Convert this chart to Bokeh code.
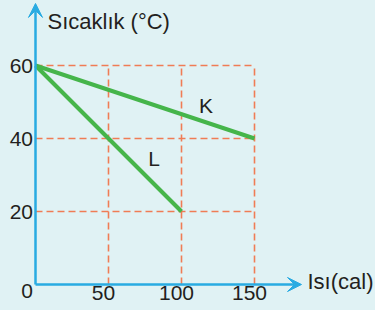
from bokeh.plotting import figure
from bokeh.models import Range1d, Arrow, VeeHead
from bokeh.core.properties import value
from bokeh.embed import file_html
from bokeh.resources import INLINE

# data
heat_K = [0, 150]
temp_K = [60, 40]
heat_L = [0, 100]
temp_L = [60, 20]
x_ticks = [50, 100, 150]
y_ticks = [20, 40, 60]
x_tick_labels = ["50", "100", "150"]
y_tick_labels = ["20", "40", "60"]

BG = "#e0f2f4"
AX = "#29abe2"
GRID = "#f07c55"
GREEN = "#45b54a"
TXT = "#231f20"
FONT = value("Liberation Sans")

# pixel mapping: x_px = 35 + 1.46*x ; y_px = 284 - 3.65*y
W, H = 375, 310
p = figure(width=W, height=H, output_backend="svg", toolbar_location=None,
           x_range=Range1d(-35 / 1.46, (W - 35) / 1.46),
           y_range=Range1d((284 - H) / 3.65, 284 / 3.65),
           x_axis_type=None, y_axis_type=None, min_border=0)
p.background_fill_color = BG
p.border_fill_color = BG
p.outline_line_color = None
p.xgrid.visible = False
p.ygrid.visible = False

xmax = max(x_ticks)
ymax = max(y_ticks)

# dashed guide lines
p.segment(x0=[0] * len(y_ticks), y0=y_ticks, x1=[xmax] * len(y_ticks), y1=y_ticks,
          line_color=GRID, line_width=1.6, line_dash="7 4")
p.segment(x0=x_ticks, y0=[0] * len(x_ticks), x1=x_ticks, y1=[ymax] * len(x_ticks),
          line_color=GRID, line_width=1.6, line_dash="7 4")

# data lines
p.line(heat_K, temp_K, line_color=GREEN, line_width=4)
p.line(heat_L, temp_L, line_color=GREEN, line_width=4)

# axes arrows
p.add_layout(Arrow(end=VeeHead(size=14, fill_color=AX, line_color=AX),
                   x_start=0, y_start=0, x_end=182.2, y_end=0,
                   line_color=AX, line_width=2.5))
p.add_layout(Arrow(end=VeeHead(size=14, fill_color=AX, line_color=AX),
                   x_start=0, y_start=0, x_end=0, y_end=77.0,
                   line_color=AX, line_width=2.5))

# tick labels
p.text(x=x_ticks, y=[0] * len(x_ticks), text=x_tick_labels, text_align="center",
       text_baseline="top", x_offset=-5, y_offset=1, text_font=FONT,
       text_font_size="21px", text_color=TXT)
p.text(x=[0] * len(y_ticks), y=y_ticks, text=y_tick_labels, text_align="right",
       text_baseline="middle", x_offset=-2.5, text_font=FONT,
       text_font_size="21px", text_color=TXT)
p.text(x=[0], y=[0], text=["0"], text_align="right", text_baseline="middle",
       x_offset=-2.5, y_offset=6, text_font=FONT, text_font_size="21px", text_color=TXT)

# axis titles
p.text(x=[8.2], y=[72.0], text=["Sıcaklık (°C)"], text_align="left",
       text_baseline="alphabetic", text_font=FONT, text_font_size="22px", text_color=TXT)
p.text(x=[186.3], y=[0], text=["Isı(cal)"], text_align="left",
       text_baseline="middle", y_offset=-3, text_font=FONT, text_font_size="22px",
       text_color=TXT)

# line labels
p.text(x=[116.8], y=[49.0], text=["K"], text_align="center", text_baseline="middle",
       text_font=FONT, text_font_size="21px", text_color=TXT)
p.text(x=[81.2], y=[34.4], text=["L"], text_align="center", text_baseline="middle",
       text_font=FONT, text_font_size="21px", text_color=TXT)

html = file_html(p, INLINE)
html = html.replace("</head>", "<style>html,body{background:%s;}</style></head>" % BG, 1)
open("out.html", "w").write(html)
